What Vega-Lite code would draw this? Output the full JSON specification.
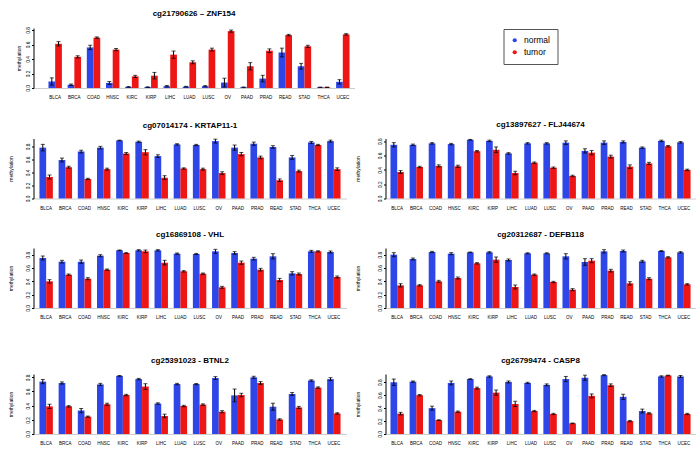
{
"$schema": "https://vega.github.io/schema/vega-lite/v6.json",
"padding": {"left": 8.5, "top": 9, "right": 0, "bottom": 0},
"datasets": {"meth": [
{"gene":"ZNF154","cancer":"BLCA","tissue":"normal","methylation":0.09,"lower":0.04,"upper":0.14},
{"gene":"ZNF154","cancer":"BLCA","tissue":"tumor","methylation":0.61,"lower":0.58,"upper":0.64},
{"gene":"ZNF154","cancer":"BRCA","tissue":"normal","methylation":0.045,"lower":0.035,"upper":0.055},
{"gene":"ZNF154","cancer":"BRCA","tissue":"tumor","methylation":0.43,"lower":0.415,"upper":0.445},
{"gene":"ZNF154","cancer":"COAD","tissue":"normal","methylation":0.56,"lower":0.53,"upper":0.59},
{"gene":"ZNF154","cancer":"COAD","tissue":"tumor","methylation":0.695,"lower":0.685,"upper":0.705},
{"gene":"ZNF154","cancer":"HNSC","tissue":"normal","methylation":0.07,"lower":0.05,"upper":0.09},
{"gene":"ZNF154","cancer":"HNSC","tissue":"tumor","methylation":0.53,"lower":0.515,"upper":0.545},
{"gene":"ZNF154","cancer":"KIRC","tissue":"normal","methylation":0.015,"lower":0.01,"upper":0.02},
{"gene":"ZNF154","cancer":"KIRC","tissue":"tumor","methylation":0.16,"lower":0.145,"upper":0.175},
{"gene":"ZNF154","cancer":"KIRP","tissue":"normal","methylation":0.012,"lower":0.007,"upper":0.017},
{"gene":"ZNF154","cancer":"KIRP","tissue":"tumor","methylation":0.17,"lower":0.125,"upper":0.215},
{"gene":"ZNF154","cancer":"LIHC","tissue":"normal","methylation":0.025,"lower":0.015,"upper":0.035},
{"gene":"ZNF154","cancer":"LIHC","tissue":"tumor","methylation":0.46,"lower":0.41,"upper":0.51},
{"gene":"ZNF154","cancer":"LUAD","tissue":"normal","methylation":0.018,"lower":0.013,"upper":0.023},
{"gene":"ZNF154","cancer":"LUAD","tissue":"tumor","methylation":0.355,"lower":0.335,"upper":0.375},
{"gene":"ZNF154","cancer":"LUSC","tissue":"normal","methylation":0.025,"lower":0.017,"upper":0.033},
{"gene":"ZNF154","cancer":"LUSC","tissue":"tumor","methylation":0.53,"lower":0.51,"upper":0.55},
{"gene":"ZNF154","cancer":"OV","tissue":"normal","methylation":0.075,"lower":0.015,"upper":0.135},
{"gene":"ZNF154","cancer":"OV","tissue":"tumor","methylation":0.785,"lower":0.77,"upper":0.8},
{"gene":"ZNF154","cancer":"PAAD","tissue":"normal","methylation":0.01,"lower":0.006,"upper":0.014},
{"gene":"ZNF154","cancer":"PAAD","tissue":"tumor","methylation":0.3,"lower":0.25,"upper":0.35},
{"gene":"ZNF154","cancer":"PRAD","tissue":"normal","methylation":0.13,"lower":0.085,"upper":0.175},
{"gene":"ZNF154","cancer":"PRAD","tissue":"tumor","methylation":0.515,"lower":0.49,"upper":0.54},
{"gene":"ZNF154","cancer":"READ","tissue":"normal","methylation":0.49,"lower":0.43,"upper":0.55},
{"gene":"ZNF154","cancer":"READ","tissue":"tumor","methylation":0.73,"lower":0.72,"upper":0.74},
{"gene":"ZNF154","cancer":"STAD","tissue":"normal","methylation":0.3,"lower":0.26,"upper":0.34},
{"gene":"ZNF154","cancer":"STAD","tissue":"tumor","methylation":0.575,"lower":0.56,"upper":0.59},
{"gene":"ZNF154","cancer":"THCA","tissue":"normal","methylation":0.01,"lower":0.007,"upper":0.013},
{"gene":"ZNF154","cancer":"THCA","tissue":"tumor","methylation":0.01,"lower":0.007,"upper":0.013},
{"gene":"ZNF154","cancer":"UCEC","tissue":"normal","methylation":0.085,"lower":0.055,"upper":0.115},
{"gene":"ZNF154","cancer":"UCEC","tissue":"tumor","methylation":0.74,"lower":0.73,"upper":0.75},
{"gene":"KRTAP11-1","cancer":"BLCA","tissue":"normal","methylation":0.78,"lower":0.73,"upper":0.83},
{"gene":"KRTAP11-1","cancer":"BLCA","tissue":"tumor","methylation":0.33,"lower":0.3,"upper":0.36},
{"gene":"KRTAP11-1","cancer":"BRCA","tissue":"normal","methylation":0.59,"lower":0.56,"upper":0.62},
{"gene":"KRTAP11-1","cancer":"BRCA","tissue":"tumor","methylation":0.48,"lower":0.465,"upper":0.495},
{"gene":"KRTAP11-1","cancer":"COAD","tissue":"normal","methylation":0.72,"lower":0.7,"upper":0.74},
{"gene":"KRTAP11-1","cancer":"COAD","tissue":"tumor","methylation":0.3,"lower":0.29,"upper":0.31},
{"gene":"KRTAP11-1","cancer":"HNSC","tissue":"normal","methylation":0.78,"lower":0.76,"upper":0.8},
{"gene":"KRTAP11-1","cancer":"HNSC","tissue":"tumor","methylation":0.45,"lower":0.435,"upper":0.465},
{"gene":"KRTAP11-1","cancer":"KIRC","tissue":"normal","methylation":0.89,"lower":0.885,"upper":0.895},
{"gene":"KRTAP11-1","cancer":"KIRC","tissue":"tumor","methylation":0.69,"lower":0.675,"upper":0.705},
{"gene":"KRTAP11-1","cancer":"KIRP","tissue":"normal","methylation":0.87,"lower":0.86,"upper":0.88},
{"gene":"KRTAP11-1","cancer":"KIRP","tissue":"tumor","methylation":0.71,"lower":0.67,"upper":0.75},
{"gene":"KRTAP11-1","cancer":"LIHC","tissue":"normal","methylation":0.65,"lower":0.63,"upper":0.67},
{"gene":"KRTAP11-1","cancer":"LIHC","tissue":"tumor","methylation":0.32,"lower":0.29,"upper":0.35},
{"gene":"KRTAP11-1","cancer":"LUAD","tissue":"normal","methylation":0.83,"lower":0.82,"upper":0.84},
{"gene":"KRTAP11-1","cancer":"LUAD","tissue":"tumor","methylation":0.46,"lower":0.45,"upper":0.47},
{"gene":"KRTAP11-1","cancer":"LUSC","tissue":"normal","methylation":0.82,"lower":0.81,"upper":0.83},
{"gene":"KRTAP11-1","cancer":"LUSC","tissue":"tumor","methylation":0.45,"lower":0.435,"upper":0.465},
{"gene":"KRTAP11-1","cancer":"OV","tissue":"normal","methylation":0.88,"lower":0.85,"upper":0.91},
{"gene":"KRTAP11-1","cancer":"OV","tissue":"tumor","methylation":0.39,"lower":0.37,"upper":0.41},
{"gene":"KRTAP11-1","cancer":"PAAD","tissue":"normal","methylation":0.78,"lower":0.74,"upper":0.82},
{"gene":"KRTAP11-1","cancer":"PAAD","tissue":"tumor","methylation":0.68,"lower":0.655,"upper":0.705},
{"gene":"KRTAP11-1","cancer":"PRAD","tissue":"normal","methylation":0.84,"lower":0.815,"upper":0.865},
{"gene":"KRTAP11-1","cancer":"PRAD","tissue":"tumor","methylation":0.63,"lower":0.61,"upper":0.65},
{"gene":"KRTAP11-1","cancer":"READ","tissue":"normal","methylation":0.79,"lower":0.77,"upper":0.81},
{"gene":"KRTAP11-1","cancer":"READ","tissue":"tumor","methylation":0.28,"lower":0.26,"upper":0.3},
{"gene":"KRTAP11-1","cancer":"STAD","tissue":"normal","methylation":0.63,"lower":0.6,"upper":0.66},
{"gene":"KRTAP11-1","cancer":"STAD","tissue":"tumor","methylation":0.42,"lower":0.405,"upper":0.435},
{"gene":"KRTAP11-1","cancer":"THCA","tissue":"normal","methylation":0.86,"lower":0.845,"upper":0.875},
{"gene":"KRTAP11-1","cancer":"THCA","tissue":"tumor","methylation":0.82,"lower":0.81,"upper":0.83},
{"gene":"KRTAP11-1","cancer":"UCEC","tissue":"normal","methylation":0.88,"lower":0.865,"upper":0.895},
{"gene":"KRTAP11-1","cancer":"UCEC","tissue":"tumor","methylation":0.45,"lower":0.43,"upper":0.47},
{"gene":"FLJ44674","cancer":"BLCA","tissue":"normal","methylation":0.75,"lower":0.72,"upper":0.78},
{"gene":"FLJ44674","cancer":"BLCA","tissue":"tumor","methylation":0.37,"lower":0.35,"upper":0.39},
{"gene":"FLJ44674","cancer":"BRCA","tissue":"normal","methylation":0.75,"lower":0.74,"upper":0.76},
{"gene":"FLJ44674","cancer":"BRCA","tissue":"tumor","methylation":0.44,"lower":0.43,"upper":0.45},
{"gene":"FLJ44674","cancer":"COAD","tissue":"normal","methylation":0.77,"lower":0.76,"upper":0.78},
{"gene":"FLJ44674","cancer":"COAD","tissue":"tumor","methylation":0.455,"lower":0.44,"upper":0.47},
{"gene":"FLJ44674","cancer":"HNSC","tissue":"normal","methylation":0.76,"lower":0.75,"upper":0.77},
{"gene":"FLJ44674","cancer":"HNSC","tissue":"tumor","methylation":0.45,"lower":0.435,"upper":0.465},
{"gene":"FLJ44674","cancer":"KIRC","tissue":"normal","methylation":0.82,"lower":0.815,"upper":0.825},
{"gene":"FLJ44674","cancer":"KIRC","tissue":"tumor","methylation":0.66,"lower":0.65,"upper":0.67},
{"gene":"FLJ44674","cancer":"KIRP","tissue":"normal","methylation":0.805,"lower":0.795,"upper":0.815},
{"gene":"FLJ44674","cancer":"KIRP","tissue":"tumor","methylation":0.68,"lower":0.64,"upper":0.72},
{"gene":"FLJ44674","cancer":"LIHC","tissue":"normal","methylation":0.63,"lower":0.62,"upper":0.64},
{"gene":"FLJ44674","cancer":"LIHC","tissue":"tumor","methylation":0.355,"lower":0.33,"upper":0.38},
{"gene":"FLJ44674","cancer":"LUAD","tissue":"normal","methylation":0.77,"lower":0.76,"upper":0.78},
{"gene":"FLJ44674","cancer":"LUAD","tissue":"tumor","methylation":0.5,"lower":0.49,"upper":0.51},
{"gene":"FLJ44674","cancer":"LUSC","tissue":"normal","methylation":0.77,"lower":0.76,"upper":0.78},
{"gene":"FLJ44674","cancer":"LUSC","tissue":"tumor","methylation":0.43,"lower":0.42,"upper":0.44},
{"gene":"FLJ44674","cancer":"OV","tissue":"normal","methylation":0.78,"lower":0.755,"upper":0.805},
{"gene":"FLJ44674","cancer":"OV","tissue":"tumor","methylation":0.315,"lower":0.305,"upper":0.325},
{"gene":"FLJ44674","cancer":"PAAD","tissue":"normal","methylation":0.665,"lower":0.635,"upper":0.695},
{"gene":"FLJ44674","cancer":"PAAD","tissue":"tumor","methylation":0.64,"lower":0.61,"upper":0.67},
{"gene":"FLJ44674","cancer":"PRAD","tissue":"normal","methylation":0.78,"lower":0.755,"upper":0.805},
{"gene":"FLJ44674","cancer":"PRAD","tissue":"tumor","methylation":0.585,"lower":0.565,"upper":0.605},
{"gene":"FLJ44674","cancer":"READ","tissue":"normal","methylation":0.79,"lower":0.775,"upper":0.805},
{"gene":"FLJ44674","cancer":"READ","tissue":"tumor","methylation":0.445,"lower":0.42,"upper":0.47},
{"gene":"FLJ44674","cancer":"STAD","tissue":"normal","methylation":0.71,"lower":0.7,"upper":0.72},
{"gene":"FLJ44674","cancer":"STAD","tissue":"tumor","methylation":0.49,"lower":0.475,"upper":0.505},
{"gene":"FLJ44674","cancer":"THCA","tissue":"normal","methylation":0.805,"lower":0.795,"upper":0.815},
{"gene":"FLJ44674","cancer":"THCA","tissue":"tumor","methylation":0.73,"lower":0.72,"upper":0.74},
{"gene":"FLJ44674","cancer":"UCEC","tissue":"normal","methylation":0.785,"lower":0.775,"upper":0.795},
{"gene":"FLJ44674","cancer":"UCEC","tissue":"tumor","methylation":0.4,"lower":0.39,"upper":0.41},
{"gene":"VHL","cancer":"BLCA","tissue":"normal","methylation":0.75,"lower":0.72,"upper":0.78},
{"gene":"VHL","cancer":"BLCA","tissue":"tumor","methylation":0.4,"lower":0.375,"upper":0.425},
{"gene":"VHL","cancer":"BRCA","tissue":"normal","methylation":0.695,"lower":0.675,"upper":0.715},
{"gene":"VHL","cancer":"BRCA","tissue":"tumor","methylation":0.5,"lower":0.49,"upper":0.51},
{"gene":"VHL","cancer":"COAD","tissue":"normal","methylation":0.695,"lower":0.67,"upper":0.72},
{"gene":"VHL","cancer":"COAD","tissue":"tumor","methylation":0.44,"lower":0.425,"upper":0.455},
{"gene":"VHL","cancer":"HNSC","tissue":"normal","methylation":0.785,"lower":0.77,"upper":0.8},
{"gene":"VHL","cancer":"HNSC","tissue":"tumor","methylation":0.575,"lower":0.565,"upper":0.585},
{"gene":"VHL","cancer":"KIRC","tissue":"normal","methylation":0.865,"lower":0.86,"upper":0.87},
{"gene":"VHL","cancer":"KIRC","tissue":"tumor","methylation":0.825,"lower":0.82,"upper":0.83},
{"gene":"VHL","cancer":"KIRP","tissue":"normal","methylation":0.865,"lower":0.855,"upper":0.875},
{"gene":"VHL","cancer":"KIRP","tissue":"tumor","methylation":0.85,"lower":0.83,"upper":0.87},
{"gene":"VHL","cancer":"LIHC","tissue":"normal","methylation":0.865,"lower":0.855,"upper":0.875},
{"gene":"VHL","cancer":"LIHC","tissue":"tumor","methylation":0.68,"lower":0.645,"upper":0.715},
{"gene":"VHL","cancer":"LUAD","tissue":"normal","methylation":0.815,"lower":0.805,"upper":0.825},
{"gene":"VHL","cancer":"LUAD","tissue":"tumor","methylation":0.55,"lower":0.54,"upper":0.56},
{"gene":"VHL","cancer":"LUSC","tissue":"normal","methylation":0.81,"lower":0.802,"upper":0.818},
{"gene":"VHL","cancer":"LUSC","tissue":"tumor","methylation":0.515,"lower":0.505,"upper":0.525},
{"gene":"VHL","cancer":"OV","tissue":"normal","methylation":0.85,"lower":0.82,"upper":0.88},
{"gene":"VHL","cancer":"OV","tissue":"tumor","methylation":0.31,"lower":0.295,"upper":0.325},
{"gene":"VHL","cancer":"PAAD","tissue":"normal","methylation":0.825,"lower":0.805,"upper":0.845},
{"gene":"VHL","cancer":"PAAD","tissue":"tumor","methylation":0.68,"lower":0.655,"upper":0.705},
{"gene":"VHL","cancer":"PRAD","tissue":"normal","methylation":0.74,"lower":0.72,"upper":0.76},
{"gene":"VHL","cancer":"PRAD","tissue":"tumor","methylation":0.575,"lower":0.555,"upper":0.595},
{"gene":"VHL","cancer":"READ","tissue":"normal","methylation":0.775,"lower":0.735,"upper":0.815},
{"gene":"VHL","cancer":"READ","tissue":"tumor","methylation":0.42,"lower":0.395,"upper":0.445},
{"gene":"VHL","cancer":"STAD","tissue":"normal","methylation":0.52,"lower":0.495,"upper":0.545},
{"gene":"VHL","cancer":"STAD","tissue":"tumor","methylation":0.51,"lower":0.495,"upper":0.525},
{"gene":"VHL","cancer":"THCA","tissue":"normal","methylation":0.85,"lower":0.835,"upper":0.865},
{"gene":"VHL","cancer":"THCA","tissue":"tumor","methylation":0.85,"lower":0.842,"upper":0.858},
{"gene":"VHL","cancer":"UCEC","tissue":"normal","methylation":0.84,"lower":0.825,"upper":0.855},
{"gene":"VHL","cancer":"UCEC","tissue":"tumor","methylation":0.465,"lower":0.45,"upper":0.48},
{"gene":"DEFB118","cancer":"BLCA","tissue":"normal","methylation":0.8,"lower":0.77,"upper":0.83},
{"gene":"DEFB118","cancer":"BLCA","tissue":"tumor","methylation":0.34,"lower":0.315,"upper":0.365},
{"gene":"DEFB118","cancer":"BRCA","tissue":"normal","methylation":0.735,"lower":0.72,"upper":0.75},
{"gene":"DEFB118","cancer":"BRCA","tissue":"tumor","methylation":0.34,"lower":0.33,"upper":0.35},
{"gene":"DEFB118","cancer":"COAD","tissue":"normal","methylation":0.84,"lower":0.83,"upper":0.85},
{"gene":"DEFB118","cancer":"COAD","tissue":"tumor","methylation":0.4,"lower":0.385,"upper":0.415},
{"gene":"DEFB118","cancer":"HNSC","tissue":"normal","methylation":0.815,"lower":0.8,"upper":0.83},
{"gene":"DEFB118","cancer":"HNSC","tissue":"tumor","methylation":0.45,"lower":0.435,"upper":0.465},
{"gene":"DEFB118","cancer":"KIRC","tissue":"normal","methylation":0.835,"lower":0.83,"upper":0.84},
{"gene":"DEFB118","cancer":"KIRC","tissue":"tumor","methylation":0.67,"lower":0.66,"upper":0.68},
{"gene":"DEFB118","cancer":"KIRP","tissue":"normal","methylation":0.835,"lower":0.825,"upper":0.845},
{"gene":"DEFB118","cancer":"KIRP","tissue":"tumor","methylation":0.725,"lower":0.685,"upper":0.765},
{"gene":"DEFB118","cancer":"LIHC","tissue":"normal","methylation":0.72,"lower":0.705,"upper":0.735},
{"gene":"DEFB118","cancer":"LIHC","tissue":"tumor","methylation":0.315,"lower":0.285,"upper":0.345},
{"gene":"DEFB118","cancer":"LUAD","tissue":"normal","methylation":0.82,"lower":0.812,"upper":0.828},
{"gene":"DEFB118","cancer":"LUAD","tissue":"tumor","methylation":0.5,"lower":0.49,"upper":0.51},
{"gene":"DEFB118","cancer":"LUSC","tissue":"normal","methylation":0.82,"lower":0.812,"upper":0.828},
{"gene":"DEFB118","cancer":"LUSC","tissue":"tumor","methylation":0.39,"lower":0.38,"upper":0.4},
{"gene":"DEFB118","cancer":"OV","tissue":"normal","methylation":0.775,"lower":0.735,"upper":0.815},
{"gene":"DEFB118","cancer":"OV","tissue":"tumor","methylation":0.275,"lower":0.26,"upper":0.29},
{"gene":"DEFB118","cancer":"PAAD","tissue":"normal","methylation":0.69,"lower":0.64,"upper":0.74},
{"gene":"DEFB118","cancer":"PAAD","tissue":"tumor","methylation":0.71,"lower":0.68,"upper":0.74},
{"gene":"DEFB118","cancer":"PRAD","tissue":"normal","methylation":0.85,"lower":0.825,"upper":0.875},
{"gene":"DEFB118","cancer":"PRAD","tissue":"tumor","methylation":0.56,"lower":0.54,"upper":0.58},
{"gene":"DEFB118","cancer":"READ","tissue":"normal","methylation":0.855,"lower":0.84,"upper":0.87},
{"gene":"DEFB118","cancer":"READ","tissue":"tumor","methylation":0.37,"lower":0.345,"upper":0.395},
{"gene":"DEFB118","cancer":"STAD","tissue":"normal","methylation":0.7,"lower":0.685,"upper":0.715},
{"gene":"DEFB118","cancer":"STAD","tissue":"tumor","methylation":0.44,"lower":0.425,"upper":0.455},
{"gene":"DEFB118","cancer":"THCA","tissue":"normal","methylation":0.855,"lower":0.847,"upper":0.863},
{"gene":"DEFB118","cancer":"THCA","tissue":"tumor","methylation":0.76,"lower":0.75,"upper":0.77},
{"gene":"DEFB118","cancer":"UCEC","tissue":"normal","methylation":0.835,"lower":0.825,"upper":0.845},
{"gene":"DEFB118","cancer":"UCEC","tissue":"tumor","methylation":0.355,"lower":0.345,"upper":0.365},
{"gene":"BTNL2","cancer":"BLCA","tissue":"normal","methylation":0.74,"lower":0.71,"upper":0.77},
{"gene":"BTNL2","cancer":"BLCA","tissue":"tumor","methylation":0.39,"lower":0.36,"upper":0.42},
{"gene":"BTNL2","cancer":"BRCA","tissue":"normal","methylation":0.72,"lower":0.705,"upper":0.735},
{"gene":"BTNL2","cancer":"BRCA","tissue":"tumor","methylation":0.39,"lower":0.38,"upper":0.4},
{"gene":"BTNL2","cancer":"COAD","tissue":"normal","methylation":0.33,"lower":0.3,"upper":0.36},
{"gene":"BTNL2","cancer":"COAD","tissue":"tumor","methylation":0.245,"lower":0.237,"upper":0.253},
{"gene":"BTNL2","cancer":"HNSC","tissue":"normal","methylation":0.7,"lower":0.685,"upper":0.715},
{"gene":"BTNL2","cancer":"HNSC","tissue":"tumor","methylation":0.42,"lower":0.405,"upper":0.435},
{"gene":"BTNL2","cancer":"KIRC","tissue":"normal","methylation":0.82,"lower":0.815,"upper":0.825},
{"gene":"BTNL2","cancer":"KIRC","tissue":"tumor","methylation":0.55,"lower":0.54,"upper":0.56},
{"gene":"BTNL2","cancer":"KIRP","tissue":"normal","methylation":0.775,"lower":0.765,"upper":0.785},
{"gene":"BTNL2","cancer":"KIRP","tissue":"tumor","methylation":0.67,"lower":0.63,"upper":0.71},
{"gene":"BTNL2","cancer":"LIHC","tissue":"normal","methylation":0.43,"lower":0.42,"upper":0.44},
{"gene":"BTNL2","cancer":"LIHC","tissue":"tumor","methylation":0.255,"lower":0.23,"upper":0.28},
{"gene":"BTNL2","cancer":"LUAD","tissue":"normal","methylation":0.705,"lower":0.695,"upper":0.715},
{"gene":"BTNL2","cancer":"LUAD","tissue":"tumor","methylation":0.395,"lower":0.385,"upper":0.405},
{"gene":"BTNL2","cancer":"LUSC","tissue":"normal","methylation":0.705,"lower":0.697,"upper":0.713},
{"gene":"BTNL2","cancer":"LUSC","tissue":"tumor","methylation":0.415,"lower":0.405,"upper":0.425},
{"gene":"BTNL2","cancer":"OV","tissue":"normal","methylation":0.79,"lower":0.77,"upper":0.81},
{"gene":"BTNL2","cancer":"OV","tissue":"tumor","methylation":0.315,"lower":0.3,"upper":0.33},
{"gene":"BTNL2","cancer":"PAAD","tissue":"normal","methylation":0.545,"lower":0.455,"upper":0.635},
{"gene":"BTNL2","cancer":"PAAD","tissue":"tumor","methylation":0.55,"lower":0.525,"upper":0.575},
{"gene":"BTNL2","cancer":"PRAD","tissue":"normal","methylation":0.8,"lower":0.785,"upper":0.815},
{"gene":"BTNL2","cancer":"PRAD","tissue":"tumor","methylation":0.72,"lower":0.7,"upper":0.74},
{"gene":"BTNL2","cancer":"READ","tissue":"normal","methylation":0.385,"lower":0.335,"upper":0.435},
{"gene":"BTNL2","cancer":"READ","tissue":"tumor","methylation":0.205,"lower":0.195,"upper":0.215},
{"gene":"BTNL2","cancer":"STAD","tissue":"normal","methylation":0.565,"lower":0.545,"upper":0.585},
{"gene":"BTNL2","cancer":"STAD","tissue":"tumor","methylation":0.375,"lower":0.36,"upper":0.39},
{"gene":"BTNL2","cancer":"THCA","tissue":"normal","methylation":0.755,"lower":0.745,"upper":0.765},
{"gene":"BTNL2","cancer":"THCA","tissue":"tumor","methylation":0.655,"lower":0.645,"upper":0.665},
{"gene":"BTNL2","cancer":"UCEC","tissue":"normal","methylation":0.775,"lower":0.755,"upper":0.795},
{"gene":"BTNL2","cancer":"UCEC","tissue":"tumor","methylation":0.29,"lower":0.28,"upper":0.3},
{"gene":"CASP8","cancer":"BLCA","tissue":"normal","methylation":0.8,"lower":0.75,"upper":0.85},
{"gene":"CASP8","cancer":"BLCA","tissue":"tumor","methylation":0.315,"lower":0.295,"upper":0.335},
{"gene":"CASP8","cancer":"BRCA","tissue":"normal","methylation":0.81,"lower":0.8,"upper":0.82},
{"gene":"CASP8","cancer":"BRCA","tissue":"tumor","methylation":0.6,"lower":0.59,"upper":0.61},
{"gene":"CASP8","cancer":"COAD","tissue":"normal","methylation":0.4,"lower":0.37,"upper":0.43},
{"gene":"CASP8","cancer":"COAD","tissue":"tumor","methylation":0.215,"lower":0.21,"upper":0.22},
{"gene":"CASP8","cancer":"HNSC","tissue":"normal","methylation":0.79,"lower":0.76,"upper":0.82},
{"gene":"CASP8","cancer":"HNSC","tissue":"tumor","methylation":0.345,"lower":0.335,"upper":0.355},
{"gene":"CASP8","cancer":"KIRC","tissue":"normal","methylation":0.85,"lower":0.845,"upper":0.855},
{"gene":"CASP8","cancer":"KIRC","tissue":"tumor","methylation":0.71,"lower":0.695,"upper":0.725},
{"gene":"CASP8","cancer":"KIRP","tissue":"normal","methylation":0.89,"lower":0.88,"upper":0.9},
{"gene":"CASP8","cancer":"KIRP","tissue":"tumor","methylation":0.64,"lower":0.6,"upper":0.68},
{"gene":"CASP8","cancer":"LIHC","tissue":"normal","methylation":0.805,"lower":0.79,"upper":0.82},
{"gene":"CASP8","cancer":"LIHC","tissue":"tumor","methylation":0.465,"lower":0.425,"upper":0.505},
{"gene":"CASP8","cancer":"LUAD","tissue":"normal","methylation":0.79,"lower":0.78,"upper":0.8},
{"gene":"CASP8","cancer":"LUAD","tissue":"tumor","methylation":0.355,"lower":0.345,"upper":0.365},
{"gene":"CASP8","cancer":"LUSC","tissue":"normal","methylation":0.76,"lower":0.745,"upper":0.775},
{"gene":"CASP8","cancer":"LUSC","tissue":"tumor","methylation":0.31,"lower":0.3,"upper":0.32},
{"gene":"CASP8","cancer":"OV","tissue":"normal","methylation":0.85,"lower":0.81,"upper":0.89},
{"gene":"CASP8","cancer":"OV","tissue":"tumor","methylation":0.165,"lower":0.16,"upper":0.17},
{"gene":"CASP8","cancer":"PAAD","tissue":"normal","methylation":0.87,"lower":0.83,"upper":0.91},
{"gene":"CASP8","cancer":"PAAD","tissue":"tumor","methylation":0.59,"lower":0.56,"upper":0.62},
{"gene":"CASP8","cancer":"PRAD","tissue":"normal","methylation":0.91,"lower":0.902,"upper":0.918},
{"gene":"CASP8","cancer":"PRAD","tissue":"tumor","methylation":0.755,"lower":0.735,"upper":0.775},
{"gene":"CASP8","cancer":"READ","tissue":"normal","methylation":0.575,"lower":0.535,"upper":0.615},
{"gene":"CASP8","cancer":"READ","tissue":"tumor","methylation":0.2,"lower":0.19,"upper":0.21},
{"gene":"CASP8","cancer":"STAD","tissue":"normal","methylation":0.355,"lower":0.325,"upper":0.385},
{"gene":"CASP8","cancer":"STAD","tissue":"tumor","methylation":0.32,"lower":0.31,"upper":0.33},
{"gene":"CASP8","cancer":"THCA","tissue":"normal","methylation":0.89,"lower":0.88,"upper":0.9},
{"gene":"CASP8","cancer":"THCA","tissue":"tumor","methylation":0.905,"lower":0.9,"upper":0.91},
{"gene":"CASP8","cancer":"UCEC","tissue":"normal","methylation":0.89,"lower":0.875,"upper":0.905},
{"gene":"CASP8","cancer":"UCEC","tissue":"tumor","methylation":0.31,"lower":0.3,"upper":0.32}
]},
"resolve": {"scale": {"color": "independent"}, "legend": {"color": "independent"}},
"spacing": 37,
"vconcat": [
{
"spacing": 21.5,
"resolve": {"scale": {"color": "independent"}, "legend": {"color": "independent"}},
"vconcat": [
{
"width": 321, "height": 60,
"title": "cg21790626 – ZNF154",
"data": {"name": "meth"},
"transform": [{"filter": {"field": "gene", "equal": "ZNF154"}}],
"encoding": {
"x": {"field": "cancer", "type": "nominal", "sort": null, "scale": {"paddingInner": 0.3, "paddingOuter": 0.52, "align": 0.75}, "axis": {"title": null}},
"xOffset": {"field": "tissue", "type": "nominal", "sort": ["normal", "tumor"]}
},
"layer": [
{"mark": "bar", "encoding": {
"y": {"field": "methylation", "type": "quantitative", "scale": {"domain": [0, 0.828], "nice": false}, "axis": {"title": "methylation", "titlePadding": 3.7}},
"color": {"field": "tissue", "type": "nominal", "scale": {"domain": ["normal", "tumor"], "range": ["#2e46e8", "#ee1515"]},
"legend": {"orient": "none", "legendX": 470, "legendY": 1, "title": null, "symbolType": "circle", "symbolSize": 18, "symbolStrokeWidth": 0, "labelFontSize": 8.5, "labelOffset": 5, "rowPadding": 3, "padding": 7, "strokeColor": "#555555", "labelColor": "#000000"}}}},
{"mark": {"type": "rule", "color": "black", "strokeWidth": 1}, "encoding": {"y": {"field": "lower", "type": "quantitative", "axis": {"title": "methylation", "titlePadding": 3.7}}, "y2": {"field": "upper"}}},
{"mark": {"type": "tick", "color": "black", "orient": "horizontal", "size": 4, "thickness": 1}, "encoding": {"y": {"field": "lower", "type": "quantitative", "axis": {"title": "methylation", "titlePadding": 3.7}}}},
{"mark": {"type": "tick", "color": "black", "orient": "horizontal", "size": 4, "thickness": 1}, "encoding": {"y": {"field": "upper", "type": "quantitative", "axis": {"title": "methylation", "titlePadding": 3.7}}}}
]
},
{
"spacing": 8,
"resolve": {"scale": {"color": "independent"}, "legend": {"color": "independent"}},
"hconcat": [
{
"width": 313, "height": 60,
"title": "cg07014174 - KRTAP11-1",
"data": {"name": "meth"},
"transform": [{"filter": {"field": "gene", "equal": "KRTAP11-1"}}],
"encoding": {
"x": {"field": "cancer", "type": "nominal", "sort": null, "scale": {"paddingInner": 0.3, "paddingOuter": 0.31}, "axis": {"title": null}},
"xOffset": {"field": "tissue", "type": "nominal", "sort": ["normal", "tumor"]}
},
"layer": [
{"mark": "bar", "encoding": {
"y": {"field": "methylation", "type": "quantitative", "scale": {"domain": [0, 0.92], "nice": false}, "axis": {"title": "methylation", "titlePadding": 11.7}},
"color": {"field": "tissue", "type": "nominal", "scale": {"domain": ["normal", "tumor"], "range": ["#2e46e8", "#ee1515"]}, "legend": null}}},
{"mark": {"type": "rule", "color": "black", "strokeWidth": 1}, "encoding": {"y": {"field": "lower", "type": "quantitative", "axis": {"title": "methylation", "titlePadding": 11.7}}, "y2": {"field": "upper"}}},
{"mark": {"type": "tick", "color": "black", "orient": "horizontal", "size": 4, "thickness": 1}, "encoding": {"y": {"field": "lower", "type": "quantitative", "axis": {"title": "methylation", "titlePadding": 11.7}}}},
{"mark": {"type": "tick", "color": "black", "orient": "horizontal", "size": 4, "thickness": 1}, "encoding": {"y": {"field": "upper", "type": "quantitative", "axis": {"title": "methylation", "titlePadding": 11.7}}}}
]
},
{
"width": 310, "height": 60,
"title": "cg13897627 - FLJ44674",
"data": {"name": "meth"},
"transform": [{"filter": {"field": "gene", "equal": "FLJ44674"}}],
"encoding": {
"x": {"field": "cancer", "type": "nominal", "sort": null, "scale": {"paddingInner": 0.3, "paddingOuter": 0.26}, "axis": {"title": null}},
"xOffset": {"field": "tissue", "type": "nominal", "sort": ["normal", "tumor"]}
},
"layer": [
{"mark": "bar", "encoding": {
"y": {"field": "methylation", "type": "quantitative", "scale": {"domain": [0, 0.838], "nice": false}, "axis": {"title": "methylation", "titlePadding": 17.2}},
"color": {"field": "tissue", "type": "nominal", "scale": {"domain": ["normal", "tumor"], "range": ["#2e46e8", "#ee1515"]}, "legend": null}}},
{"mark": {"type": "rule", "color": "black", "strokeWidth": 1}, "encoding": {"y": {"field": "lower", "type": "quantitative", "axis": {"title": "methylation", "titlePadding": 17.2}}, "y2": {"field": "upper"}}},
{"mark": {"type": "tick", "color": "black", "orient": "horizontal", "size": 4, "thickness": 1}, "encoding": {"y": {"field": "lower", "type": "quantitative", "axis": {"title": "methylation", "titlePadding": 17.2}}}},
{"mark": {"type": "tick", "color": "black", "orient": "horizontal", "size": 4, "thickness": 1}, "encoding": {"y": {"field": "upper", "type": "quantitative", "axis": {"title": "methylation", "titlePadding": 17.2}}}}
]
}
]
},
{
"spacing": 8,
"resolve": {"scale": {"color": "independent"}, "legend": {"color": "independent"}},
"hconcat": [
{
"width": 313, "height": 60,
"title": "cg16869108 - VHL",
"data": {"name": "meth"},
"transform": [{"filter": {"field": "gene", "equal": "VHL"}}],
"encoding": {
"x": {"field": "cancer", "type": "nominal", "sort": null, "scale": {"paddingInner": 0.3, "paddingOuter": 0.31}, "axis": {"title": null}},
"xOffset": {"field": "tissue", "type": "nominal", "sort": ["normal", "tumor"]}
},
"layer": [
{"mark": "bar", "encoding": {
"y": {"field": "methylation", "type": "quantitative", "scale": {"domain": [0, 0.9], "nice": false}, "axis": {"title": "methylation", "titlePadding": 11.7}},
"color": {"field": "tissue", "type": "nominal", "scale": {"domain": ["normal", "tumor"], "range": ["#2e46e8", "#ee1515"]}, "legend": null}}},
{"mark": {"type": "rule", "color": "black", "strokeWidth": 1}, "encoding": {"y": {"field": "lower", "type": "quantitative", "axis": {"title": "methylation", "titlePadding": 11.7}}, "y2": {"field": "upper"}}},
{"mark": {"type": "tick", "color": "black", "orient": "horizontal", "size": 4, "thickness": 1}, "encoding": {"y": {"field": "lower", "type": "quantitative", "axis": {"title": "methylation", "titlePadding": 11.7}}}},
{"mark": {"type": "tick", "color": "black", "orient": "horizontal", "size": 4, "thickness": 1}, "encoding": {"y": {"field": "upper", "type": "quantitative", "axis": {"title": "methylation", "titlePadding": 11.7}}}}
]
},
{
"width": 310, "height": 60,
"title": "cg20312687 - DEFB118",
"data": {"name": "meth"},
"transform": [{"filter": {"field": "gene", "equal": "DEFB118"}}],
"encoding": {
"x": {"field": "cancer", "type": "nominal", "sort": null, "scale": {"paddingInner": 0.3, "paddingOuter": 0.26}, "axis": {"title": null}},
"xOffset": {"field": "tissue", "type": "nominal", "sort": ["normal", "tumor"]}
},
"layer": [
{"mark": "bar", "encoding": {
"y": {"field": "methylation", "type": "quantitative", "scale": {"domain": [0, 0.9], "nice": false}, "axis": {"title": "methylation", "titlePadding": 17.2}},
"color": {"field": "tissue", "type": "nominal", "scale": {"domain": ["normal", "tumor"], "range": ["#2e46e8", "#ee1515"]}, "legend": null}}},
{"mark": {"type": "rule", "color": "black", "strokeWidth": 1}, "encoding": {"y": {"field": "lower", "type": "quantitative", "axis": {"title": "methylation", "titlePadding": 17.2}}, "y2": {"field": "upper"}}},
{"mark": {"type": "tick", "color": "black", "orient": "horizontal", "size": 4, "thickness": 1}, "encoding": {"y": {"field": "lower", "type": "quantitative", "axis": {"title": "methylation", "titlePadding": 17.2}}}},
{"mark": {"type": "tick", "color": "black", "orient": "horizontal", "size": 4, "thickness": 1}, "encoding": {"y": {"field": "upper", "type": "quantitative", "axis": {"title": "methylation", "titlePadding": 17.2}}}}
]
}
]
}
]
},
{
"spacing": 8,
"resolve": {"scale": {"color": "independent"}, "legend": {"color": "independent"}},
"hconcat": [
{
"width": 313, "height": 60,
"title": "cg25391023 - BTNL2",
"data": {"name": "meth"},
"transform": [{"filter": {"field": "gene", "equal": "BTNL2"}}],
"encoding": {
"x": {"field": "cancer", "type": "nominal", "sort": null, "scale": {"paddingInner": 0.3, "paddingOuter": 0.31}, "axis": {"title": null}},
"xOffset": {"field": "tissue", "type": "nominal", "sort": ["normal", "tumor"]}
},
"layer": [
{"mark": "bar", "encoding": {
"y": {"field": "methylation", "type": "quantitative", "scale": {"domain": [0, 0.847], "nice": false}, "axis": {"title": "methylation", "titlePadding": 11.7}},
"color": {"field": "tissue", "type": "nominal", "scale": {"domain": ["normal", "tumor"], "range": ["#2e46e8", "#ee1515"]}, "legend": null}}},
{"mark": {"type": "rule", "color": "black", "strokeWidth": 1}, "encoding": {"y": {"field": "lower", "type": "quantitative", "axis": {"title": "methylation", "titlePadding": 11.7}}, "y2": {"field": "upper"}}},
{"mark": {"type": "tick", "color": "black", "orient": "horizontal", "size": 4, "thickness": 1}, "encoding": {"y": {"field": "lower", "type": "quantitative", "axis": {"title": "methylation", "titlePadding": 11.7}}}},
{"mark": {"type": "tick", "color": "black", "orient": "horizontal", "size": 4, "thickness": 1}, "encoding": {"y": {"field": "upper", "type": "quantitative", "axis": {"title": "methylation", "titlePadding": 11.7}}}}
]
},
{
"width": 310, "height": 60,
"title": "cg26799474 - CASP8",
"data": {"name": "meth"},
"transform": [{"filter": {"field": "gene", "equal": "CASP8"}}],
"encoding": {
"x": {"field": "cancer", "type": "nominal", "sort": null, "scale": {"paddingInner": 0.3, "paddingOuter": 0.26}, "axis": {"title": null}},
"xOffset": {"field": "tissue", "type": "nominal", "sort": ["normal", "tumor"]}
},
"layer": [
{"mark": "bar", "encoding": {
"y": {"field": "methylation", "type": "quantitative", "scale": {"domain": [0, 0.928], "nice": false}, "axis": {"title": "methylation", "titlePadding": 17.2}},
"color": {"field": "tissue", "type": "nominal", "scale": {"domain": ["normal", "tumor"], "range": ["#2e46e8", "#ee1515"]}, "legend": null}}},
{"mark": {"type": "rule", "color": "black", "strokeWidth": 1}, "encoding": {"y": {"field": "lower", "type": "quantitative", "axis": {"title": "methylation", "titlePadding": 17.2}}, "y2": {"field": "upper"}}},
{"mark": {"type": "tick", "color": "black", "orient": "horizontal", "size": 4, "thickness": 1}, "encoding": {"y": {"field": "lower", "type": "quantitative", "axis": {"title": "methylation", "titlePadding": 17.2}}}},
{"mark": {"type": "tick", "color": "black", "orient": "horizontal", "size": 4, "thickness": 1}, "encoding": {"y": {"field": "upper", "type": "quantitative", "axis": {"title": "methylation", "titlePadding": 17.2}}}}
]
}
]
}
],
"config": {
"view": {"stroke": null},
"font": "Liberation Sans",
"title": {"fontSize": 8, "fontWeight": "bold", "offset": 9, "color": "#000000", "anchor": "middle"},
"axisX": {"labelAngle": 0, "labelFontSize": 4.5, "tickSize": 0, "labelPadding": 6.5, "domainColor": "#cccccc", "domainWidth": 1, "labelColor": "#000000"},
"axisY": {"tickCount": 5, "labelAngle": -90, "labelAlign": "center", "labelBaseline": "bottom", "labelFontSize": 4.8, "labelColor": "#000000", "tickSize": 2, "labelPadding": 1, "grid": false, "domainColor": "#000000", "tickColor": "#000000", "titleFontSize": 5, "titleFontWeight": "normal", "titleColor": "#000000"},
"legend": {"labelFont": "Liberation Sans"}
}
}
